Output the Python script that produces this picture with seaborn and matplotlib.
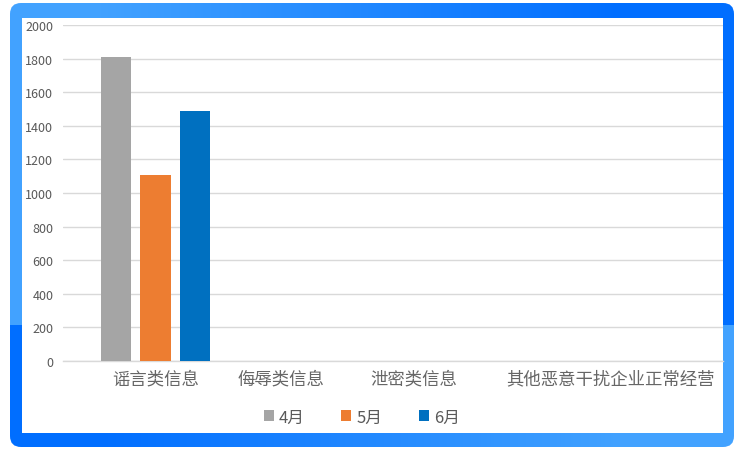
import matplotlib
matplotlib.use("Agg")
import matplotlib.pyplot as plt
from matplotlib.patches import FancyBboxPatch, Rectangle
import numpy as np
import pandas as pd
import seaborn as sns

# data
categories = ["谣言类信息", "侮辱类信息", "泄密类信息", "其他恶意干扰企业正常经营"]
months = ["4月", "5月", "6月"]
apr_values = [1812, 0, 0, 0]
may_values = [1110, 0, 0, 0]
jun_values = [1490, 0, 0, 0]
month_colors = ["#a5a5a5", "#ed7d31", "#0070c0"]
y_ticks = [0, 200, 400, 600, 800, 1000, 1200, 1400, 1600, 1800, 2000]

sns.set_theme(style="white")
plt.rcParams['font.family'] = ['Noto Sans CJK SC', 'DejaVu Sans']

W, H = 743, 460
fig = plt.figure(figsize=(W / 100, H / 100), dpi=100)
fig.patch.set_facecolor("white")

# blue rounded frame with a gradient
bg = fig.add_axes([0, 0, 1, 1])
bg.set_xlim(0, W)
bg.set_ylim(H, 0)
bg.axis("off")
light = np.array([0x42, 0xa2, 0xff]) / 255
dark = np.array([0x00, 0x6e, 0xff]) / 255
xx, yy = np.meshgrid(np.arange(W), np.arange(H))
t = np.clip((xx - 100) / 520, 0, 1)
t = np.where(yy < 326, t, 1 - t)
img = light[None, None, :] * (1 - t[..., None]) + dark[None, None, :] * t[..., None]
im = bg.imshow(img, extent=[0, W, H, 0], aspect="auto", zorder=1)
frame = FancyBboxPatch((10, 4), 724, 444, boxstyle="round,pad=0,rounding_size=11",
                       transform=bg.transData, facecolor="none", edgecolor="none")
bg.add_patch(frame)
im.set_clip_path(frame)
bg.add_patch(Rectangle((22, 19), 701, 415, facecolor="white", edgecolor="none", zorder=2))

# chart
df = pd.DataFrame({
    "category": categories * 3,
    "month": [m for m in months for _ in categories],
    "value": apr_values + may_values + jun_values,
})

ax = fig.add_axes([63 / W, 1 - 362 / H, (723 - 63) / W, 336 / H])
ax.set_facecolor("none")
sns.barplot(data=df, x="category", y="value", hue="month", palette=month_colors,
            width=0.8, gap=0.23, saturation=1, linewidth=0, ax=ax, zorder=3)

ax.set_ylim(0, 2000)
ax.set_yticks(y_ticks)
ax.set_xlim(-0.625, 3.834)
ax.set_xticks([0, 0.848, 1.747, 3.071])
ax.set_xticklabels(categories)
ax.grid(axis="y", color="#d9d9d9", linewidth=1, zorder=0)
ax.set_axisbelow(True)
for s in ["top", "right", "left"]:
    ax.spines[s].set_visible(False)
ax.spines["bottom"].set_color("#d9d9d9")
ax.spines["bottom"].set_linewidth(1)
ax.tick_params(axis="y", length=0, pad=7, labelsize=9, labelcolor="#595959")
ax.tick_params(axis="x", length=0, pad=6, labelsize=12.5, labelcolor="#666666")
ax.set_xlabel("")
ax.set_ylabel("")

handles, labels = ax.get_legend_handles_labels()
ax.get_legend().remove()
fig.legend(handles, labels, loc="center", bbox_to_anchor=(0.487, 1 - 418 / H), ncol=3,
           frameon=False, fontsize=12, labelcolor="#595959", handlelength=0.6,
           handleheight=0.6, handletextpad=0.3, columnspacing=2.2)

fig.savefig("out.png", dpi=100)
